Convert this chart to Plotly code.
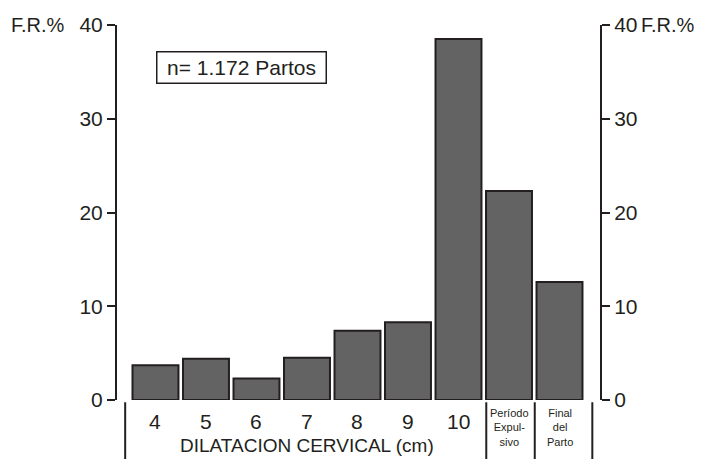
import plotly.graph_objects as go

categories = ["4", "5", "6", "7", "8", "9", "10", "Período<br>Expul-<br>sivo", "Final<br>del<br>Parto"]
values = [3.7, 4.4, 2.3, 4.5, 7.4, 8.3, 38.5, 22.3, 12.6]
y_ticks = [0, 10, 20, 30, 40]
x_title = "DILATACION CERVICAL (cm)"
note = "n= 1.172 Partos"

FONT = "Liberation Sans, Arial, sans-serif"
INK = "#231f20"
positions = list(range(len(categories)))

fig = go.Figure()
fig.add_trace(go.Bar(
    x=positions, y=values, width=0.91,
    marker=dict(color="#636363", line=dict(color=INK, width=2)),
    showlegend=False, hoverinfo="skip",
))
fig.add_trace(go.Scatter(x=[positions[0]], y=[0], yaxis="y2", mode="markers",
                         marker=dict(opacity=0), showlegend=False, hoverinfo="skip"))

axis_common = dict(range=[0, 40], tickvals=y_ticks, ticks="outside", ticklen=8, tickwidth=2,
                   tickcolor=INK, showline=True, linecolor=INK, linewidth=2, showgrid=False,
                   zeroline=False, automargin=False,
                   tickfont=dict(family=FONT, size=21, color=INK))

# page body has an 8px margin, so the figure is sized to fit the window
fig.update_layout(
    width=694, height=451,
    margin=dict(l=109, r=102, t=17, b=59, autoexpand=False),
    paper_bgcolor="white", plot_bgcolor="white",
    xaxis=dict(range=[-0.762, 8.802], showticklabels=False, ticks="", showline=False,
               showgrid=False, zeroline=False, automargin=False),
    yaxis=dict(**axis_common, side="left"),
    yaxis2=dict(**axis_common, side="right", overlaying="y"),
    font=dict(family=FONT, color=INK),
)

ann = []
for i, c in enumerate(categories):
    if i < 7:
        ann.append(dict(x=i, y=-0.058, xref="x", yref="paper", text=c, showarrow=False,
                        font=dict(size=21, family=FONT, color=INK), yanchor="middle"))
    else:
        ann.append(dict(x=i, y=-0.073, xref="x", yref="paper", text=c, showarrow=False,
                        font=dict(size=11, family=FONT, color=INK), yanchor="middle",
                        align="center"))
ann.append(dict(x=3.0, y=-0.121, xref="x", yref="paper", text=x_title, showarrow=False,
                font=dict(size=19, family=FONT, color=INK), yanchor="middle"))
ann.append(dict(x=-0.103, y=1.0, xref="paper", yref="paper", text="F.R.%", showarrow=False,
                font=dict(size=20, family=FONT, color=INK), xanchor="right", yanchor="middle"))
ann.append(dict(x=1.08, y=1.0, xref="paper", yref="paper", text="F.R.%", showarrow=False,
                font=dict(size=20, family=FONT, color=INK), xanchor="left", yanchor="middle"))
ann.append(dict(x=0.258, y=0.886, xref="paper", yref="paper", text=note, showarrow=False,
                font=dict(size=21, family=FONT, color=INK), bordercolor=INK, borderwidth=1.5,
                borderpad=4, width=160, height=22, bgcolor="white",
                xanchor="center", yanchor="middle"))
fig.update_layout(annotations=ann)

for xv in [-0.6, 6.55, 7.51, 8.65]:
    fig.add_shape(type="line", xref="x", yref="paper", x0=xv, x1=xv, y0=-0.006, y1=-0.16,
                  line=dict(color=INK, width=2))

fig.write_html("out.html")
